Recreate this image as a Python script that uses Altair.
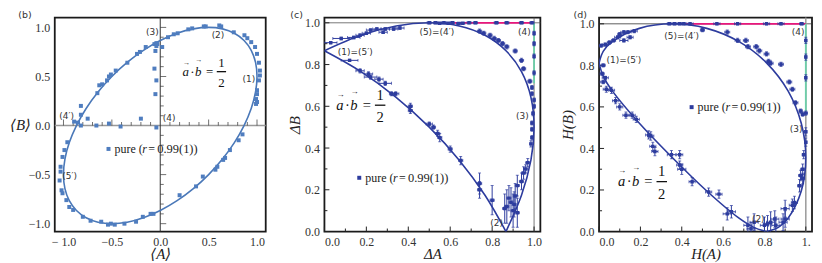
import altair as alt
import pandas as pd

SERIF = "Liberation Serif, DejaVu Serif, serif"
SANS = "DejaVu Sans, sans-serif"
BLUE_B = "#4f7dbf"
CURVE_B = "#4a78b8"
BLUE = "#2d3c9e"
PINK = "#e8177c"
GREEN = "#6ccfa9"

W_B, W_C, W_D, H = 212, 217, 214, 215

# ---------------- panel (b): <A>, <B> ----------------
b_curve_A = [1.0, 0.985, 0.94, 0.866, 0.766, 0.643, 0.5, 0.342, 0.174, 0.0, -0.174, -0.342, -0.5, -0.643,
             -0.766, -0.866, -0.94, -0.985, -1.0, -0.985, -0.94, -0.866, -0.766, -0.643, -0.5, -0.342, -0.174,
             0.0, 0.174, 0.342, 0.5, 0.643, 0.766, 0.866, 0.94, 0.985]
b_curve_B = [0.5, 0.643, 0.766, 0.866, 0.94, 0.985, 1.0, 0.985, 0.94, 0.866, 0.766, 0.643, 0.5, 0.342, 0.174,
             0.0, -0.174, -0.342, -0.5, -0.643, -0.766, -0.866, -0.94, -0.985, -1.0, -0.985, -0.94, -0.866,
             -0.766, -0.643, -0.5, -0.342, -0.174, 0.0, 0.174, 0.342]

b_pts_A = [-0.89, -0.85, -0.82, -0.82, -0.75, -0.65, -0.63, -0.60, -0.55, -0.53, -0.51, -0.46, -0.34, -0.24,
           -0.21, -0.15, -0.06, -0.04, -0.03, 0.02, 0.08, 0.14, 0.18, 0.29, 0.33, 0.45, 0.47, 0.61, 0.63, 0.76,
           0.87, 0.90, 0.94, 0.98, 1.00, 1.02, 1.03, 1.03, 1.02, 1.00, 1.00, 0.99, 1.00, 0.99,
           0.85, 0.81, 0.72, 0.67, 0.65, 0.59, 0.57, 0.44, 0.37, 0.20, -0.07, -0.10, -0.18, -0.25, -0.37,
           -0.47, -0.51, -0.54, -0.61, -0.72, -0.80, -0.90, -0.94, -0.97, -1.01, -1.02, -1.04, -1.03, -1.03,
           -1.01, -0.99, -0.96,
           -0.82, -0.66, -0.53, -0.41, -0.20, -0.04,
           -0.05, -0.04, -0.06, -0.05, -0.04]
b_pts_B = [0.04, 0.03, 0.20, 0.11, 0.07, 0.33, 0.41, 0.42, 0.46, 0.50, 0.52, 0.56, 0.64, 0.73,
           0.75, 0.80, 0.83, 0.84, 0.83, 0.80, 0.90, 0.93, 0.94, 0.98, 0.99, 1.01, 1.01, 1.02, 1.01, 0.95,
           0.92, 0.89, 0.85, 0.80, 0.73, 0.64, 0.56, 0.51, 0.46, 0.36, 0.32, 0.27, 0.24, 0.22,
           -0.09, -0.15, -0.25, -0.33, -0.35, -0.42, -0.45, -0.52, -0.62, -0.71, -0.90, -0.90, -0.93, -0.98,
           -1.0, -1.01, -1.0, -1.01, -0.98, -0.97, -0.93, -0.86, -0.83, -0.76, -0.69, -0.66, -0.56, -0.47,
           -0.42, -0.32, -0.25, -0.17,
           0.0, 0.0, 0.02, -0.01, 0.07, -0.02,
           0.32, 0.46, 0.58, 0.76, 0.81]

b_ticks_major = [-1.0, -0.5, 0.5, 1.0]
b_ticks_minor = [-0.9, -0.8, -0.7, -0.6, -0.4, -0.3, -0.2, -0.1, 0.1, 0.2, 0.3, 0.4, 0.6, 0.7, 0.8, 0.9]
b_labels = [-1.0, -0.5, 0.0, 0.5, 1.0]

# ---------------- panel (c): uncertainties ----------------
c_lo_x = [0.0, 0.174, 0.342, 0.5, 0.643, 0.766, 0.866]
c_lo_y = [0.866, 0.766, 0.643, 0.5, 0.342, 0.174, 0.0]
c_up_x = [0.866, 0.94, 0.985, 1.0, 0.985, 0.94, 0.866, 0.766, 0.643, 0.5, 0.342, 0.174, 0.0]
c_up_y = [0.0, 0.174, 0.342, 0.5, 0.643, 0.766, 0.866, 0.94, 0.985, 1.0, 0.985, 0.94, 0.866]

c_x = [0.03, 0.08, 0.14, 0.17, 0.20, 0.22, 0.25, 0.28, 0.29, 0.33, 0.36,
       0.50, 0.53, 0.55, 0.57, 0.59, 0.61, 0.64, 0.66, 0.69,
       0.72, 0.82, 0.87, 0.94, 0.99,
       1.0, 1.0, 1.0, 1.0,
       0.74, 0.76, 0.79, 0.81, 0.83, 0.85, 0.87, 0.91, 0.94, 0.95, 0.98, 0.99, 0.99, 1.0, 1.0, 0.995, 0.99,
       0.99, 0.99, 0.985,
       0.97, 0.96, 0.95, 0.94, 0.92, 0.91, 0.89, 0.88, 0.87, 0.86, 0.90, 0.92, 0.905,
       0.80, 0.74, 0.74, 0.65, 0.60, 0.55, 0.54, 0.52, 0.50, 0.41, 0.41, 0.34, 0.32, 0.29, 0.26, 0.22, 0.21,
       0.17, 0.12]
c_y = [0.905, 0.925, 0.93, 0.94, 0.95, 0.965, 0.97, 0.955, 0.97, 0.97, 0.975,
       1.0, 1.0, 0.998, 1.0, 0.998, 1.0, 0.997, 0.998, 1.0,
       1.0, 1.0, 1.0, 1.0, 1.0,
       0.95, 0.90, 0.84, 0.76,
       0.96, 0.95, 0.94, 0.925, 0.915, 0.90, 0.885, 0.865, 0.82, 0.78, 0.72, 0.69, 0.66, 0.63, 0.60, 0.565,
       0.52, 0.49, 0.45, 0.42,
       0.33, 0.30, 0.28, 0.24, 0.22, 0.17, 0.14, 0.16, 0.12, 0.11, 0.10, 0.09, 0.13,
       0.15, 0.23, 0.20, 0.34, 0.395, 0.45, 0.47, 0.50, 0.515, 0.60, 0.58, 0.66, 0.66, 0.71, 0.73, 0.74,
       0.755, 0.77, 0.82]
c_xe = [0.03, 0.04, 0.03, 0.02, 0.02, 0.02, 0.02, 0.02, 0.02, 0.02, 0.02,
        0.01, 0.01, 0.01, 0.01, 0.01, 0.01, 0.01, 0.01, 0.01,
        0.01, 0.01, 0.01, 0.01, 0.01,
        0.003, 0.003, 0.003, 0.003,
        0.01, 0.01, 0.01, 0.01, 0.01, 0.01, 0.01, 0.01, 0.01, 0.01, 0.01, 0.005, 0.005, 0.005, 0.005, 0.005,
        0.005, 0.005, 0.005, 0.005,
        0.01, 0.01, 0.01, 0.01, 0.01, 0.01, 0.01, 0.01, 0.01, 0.01, 0.01, 0.01, 0.01,
        0.01, 0.01, 0.01, 0.01, 0.01, 0.01, 0.01, 0.01, 0.015, 0.01, 0.01, 0.015, 0.01, 0.03, 0.02, 0.03,
        0.02, 0.02, 0.04]
c_ye = [0.006, 0.006, 0.006, 0.006, 0.006, 0.006, 0.006, 0.006, 0.006, 0.006, 0.006,
        0.004, 0.004, 0.004, 0.004, 0.004, 0.004, 0.004, 0.004, 0.004,
        0.004, 0.004, 0.004, 0.004, 0.004,
        0.01, 0.01, 0.01, 0.01,
        0.01, 0.01, 0.01, 0.01, 0.01, 0.01, 0.01, 0.01, 0.01, 0.01, 0.01, 0.01, 0.01, 0.01, 0.01, 0.01,
        0.01, 0.01, 0.01, 0.015,
        0.02, 0.02, 0.03, 0.04, 0.05, 0.06, 0.07, 0.06, 0.08, 0.07, 0.08, 0.07, 0.06,
        0.07, 0.05, 0.04, 0.02, 0.015, 0.02, 0.015, 0.01, 0.01, 0.015, 0.015, 0.01, 0.01, 0.01, 0.01, 0.01,
        0.01, 0.01, 0.005]

c_pink_x = [0.62, 1.0]
c_pink_y = [1.0, 1.0]
c_green_x = [1.0, 1.0]
c_green_y = [0.71, 1.0]

# ---------------- panel (d): entropies ----------------
d_lo_x = [0.0, 0.020, 0.064, 0.195, 0.355, 0.521, 0.677, 0.748, 0.811]
d_lo_y = [0.811, 0.748, 0.677, 0.521, 0.355, 0.195, 0.064, 0.020, 0.0]
d_up_x = [0.811, 0.867, 0.914, 0.978, 1.0, 0.978, 0.914, 0.811, 0.677, 0.521, 0.355, 0.195, 0.064, 0.020, 0.0]
d_up_y = [0.0, 0.020, 0.064, 0.195, 0.355, 0.521, 0.677, 0.811, 0.914, 0.978, 1.0, 0.978, 0.914, 0.867, 0.811]

d_x = [0.01, 0.03, 0.05, 0.07, 0.09, 0.10, 0.12, 0.14, 0.15, 0.12, 0.17, 0.02, 0.015, 0.02, 0.03,
       0.34, 0.365, 0.39, 0.41, 0.44, 0.50, 0.57, 0.67, 0.81, 0.88, 0.98,
       0.62, 0.67, 0.71, 0.72, 0.76, 0.775, 0.81, 0.82, 0.83, 0.88, 0.92, 0.935, 0.95, 0.975, 0.985, 1.0,
       1.0, 1.0, 1.0,
       1.0, 1.0, 0.99, 0.985, 0.975, 0.985, 0.97, 0.945, 0.935, 0.90, 0.90, 0.89, 0.85, 0.83, 0.815, 0.855,
       0.80, 0.75, 0.72, 0.735,
       0.64, 0.62, 0.58, 0.53, 0.45, 0.40, 0.39, 0.35, 0.39, 0.27, 0.26, 0.25, 0.24, 0.18, 0.16, 0.13, 0.10,
       0.08, 0.06, 0.035]
d_y = [0.895, 0.90, 0.91, 0.92, 0.935, 0.95, 0.96, 0.96, 0.935, 0.92, 0.965, 0.80, 0.76, 0.72, 0.74,
       1.0, 1.0, 1.0, 1.0, 1.0, 0.97, 1.0, 1.0, 1.0, 1.0, 1.0,
       0.96, 0.92, 0.92, 0.89, 0.89, 0.87, 0.855, 0.82, 0.81, 0.805, 0.72, 0.685, 0.62, 0.58, 0.565, 0.57,
       0.92, 0.84, 0.74,
       0.48, 0.43, 0.37, 0.30, 0.27, 0.255, 0.22, 0.14, 0.126, 0.11, 0.06, 0.045, 0.06, 0.045, 0.037, 0.03,
       0.03, 0.045, 0.03, 0.013,
       0.095, 0.085, 0.18, 0.19, 0.24, 0.30, 0.32, 0.37, 0.37, 0.385, 0.41, 0.46, 0.465, 0.54, 0.56, 0.56,
       0.60, 0.63, 0.68, 0.685]
d_xe = [0.01, 0.015, 0.01, 0.01, 0.015, 0.01, 0.015, 0.015, 0.015, 0.02, 0.015, 0.01, 0.01, 0.015, 0.015,
        0.01, 0.01, 0.01, 0.01, 0.015, 0.01, 0.015, 0.015, 0.015, 0.015, 0.01,
        0.012, 0.012, 0.012, 0.012, 0.012, 0.012, 0.012, 0.012, 0.012, 0.012, 0.012, 0.012, 0.012, 0.008,
        0.008, 0.008,
        0.004, 0.004, 0.004,
        0.005, 0.005, 0.008, 0.01, 0.01, 0.01, 0.01, 0.015, 0.015, 0.02, 0.02, 0.02, 0.02, 0.02, 0.02, 0.02,
        0.02, 0.02, 0.02, 0.02,
        0.02, 0.02, 0.015, 0.015, 0.015, 0.02, 0.015, 0.02, 0.015, 0.015, 0.015, 0.015, 0.015, 0.015, 0.015,
        0.015, 0.015, 0.015, 0.015, 0.015]
d_ye = [0.008, 0.008, 0.008, 0.008, 0.008, 0.008, 0.008, 0.008, 0.008, 0.008, 0.008, 0.008, 0.008, 0.008,
        0.008,
        0.004, 0.004, 0.004, 0.004, 0.004, 0.008, 0.004, 0.004, 0.004, 0.004, 0.004,
        0.01, 0.01, 0.01, 0.01, 0.01, 0.01, 0.01, 0.01, 0.01, 0.01, 0.01, 0.01, 0.01, 0.01, 0.01, 0.01,
        0.015, 0.015, 0.015,
        0.02, 0.02, 0.02, 0.025, 0.025, 0.025, 0.03, 0.03, 0.03, 0.04, 0.04, 0.04, 0.04, 0.05, 0.04, 0.04,
        0.04, 0.04, 0.04, 0.03,
        0.03, 0.03, 0.02, 0.02, 0.02, 0.025, 0.02, 0.02, 0.02, 0.02, 0.02, 0.02, 0.02, 0.015, 0.015, 0.015,
        0.015, 0.015, 0.015, 0.015]

d_pink_x = [0.42, 1.0]
d_pink_y = [1.0, 1.0]
d_green_x = [1.0, 1.0]
d_green_y = [0.58, 1.0]

cd_ticks_major = [0.0, 0.2, 0.4, 0.6, 0.8, 1.0]
cd_ticks_minor = [0.1, 0.3, 0.5, 0.7, 0.9]
cd_labels = [0.0, 0.2, 0.4, 0.6, 0.8, 1.0]

dummy = pd.DataFrame({"d": [0]})


def axis(values, title, orient, title_pos, angle=0, style="italic", label_expr=None):
    kw = dict(values=values, format=".1f", title=title, ticks=False, domain=False, grid=False,
              labelFont=SERIF, labelFontSize=12, labelColor="#333", labelPadding=5,
              titleFont=SERIF, titleFontSize=15, titleFontStyle=style, titleFontWeight="normal",
              titleColor="#222", titleAngle=angle, titleAlign="center", titleBaseline="middle")
    if label_expr:
        kw["labelExpr"] = label_expr
    if orient == "bottom":
        kw["titleY"] = title_pos
    else:
        kw["titleX"] = title_pos
        kw["titleY"] = H / 2
    return alt.Axis(**kw)


def encoders(xdom, ydom, xax, yax):
    xs = alt.Scale(domain=xdom, nice=False, zero=False)
    ys = alt.Scale(domain=ydom, nice=False, zero=False)

    def X(f):
        return alt.X(f, type="quantitative", scale=xs, axis=xax)

    def Y(f):
        return alt.Y(f, type="quantitative", scale=ys, axis=yax)
    return X, Y


def txt(s, x, y, size=9, font=SANS, style="normal", align="center", baseline="middle", color="#333"):
    return alt.Chart(dummy).mark_text(text=s, fontSize=size, font=font, fontStyle=style, align=align,
                                      baseline=baseline, color=color).encode(x=alt.value(x), y=alt.value(y))


def frac(x0, yb, s):
    f = 12.5 * s
    c = "#111"
    return [
        txt("a", x0 + 2.5 * s, yb, size=f, font=SERIF, style="italic", baseline="alphabetic", color=c),
        txt("\u2192", x0 + 3.0 * s, yb - 12.5 * s, size=7 * s, font=SERIF, color=c),
        txt("\u00b7", x0 + 9 * s, yb, size=f, font=SERIF, baseline="alphabetic", color=c),
        txt("b", x0 + 14.5 * s, yb, size=f, font=SERIF, style="italic", baseline="alphabetic", color=c),
        txt("\u2192", x0 + 15.0 * s, yb - 15.5 * s, size=7 * s, font=SERIF, color=c),
        txt("=", x0 + 25.5 * s, yb, size=f, font=SERIF, baseline="alphabetic", color=c),
        txt("1", x0 + 37 * s, yb - 8.5 * s, size=f, font=SERIF, baseline="alphabetic", color=c),
        txt("2", x0 + 37 * s, yb + 11 * s, size=f, font=SERIF, baseline="alphabetic", color=c),
        alt.Chart(dummy).mark_rule(color=c, strokeWidth=1.3).encode(
            x=alt.value(x0 + 32.5 * s), x2=alt.value(x0 + 41.5 * s), y=alt.value(yb - 3.8 * s)),
    ]


def legend(x, y, color):
    c = "#222"
    return [
        alt.Chart(dummy).mark_square(size=16, color=color, opacity=1).encode(x=alt.value(x), y=alt.value(y)),
        txt("pure (", x + 6, y, size=12, font=SERIF, align="left", color=c),
        txt("r", x + 34, y, size=12, font=SERIF, style="italic", align="left", color=c),
        txt("=", x + 40, y, size=12, font=SERIF, align="left", color=c),
        txt("0.99(1))", x + 49, y, size=12.5, font=SERIF, align="left", color=c),
    ]


def edge_ticks(X, Y, vals, length):
    df = pd.DataFrame({"v": vals})
    bottom = alt.Chart(df).mark_rule(color="#222", strokeWidth=1).encode(
        x=X("v"), y=alt.value(H), y2=alt.value(H - length))
    left = alt.Chart(df).mark_rule(color="#222", strokeWidth=1).encode(
        y=Y("v"), x=alt.value(0), x2=alt.value(length))
    return [bottom, left]


def points_with_errors(X, Y, xs, ys, xes, yes, color):
    df = pd.DataFrame({"x": xs, "y": ys, "xe": xes, "ye": yes})
    base = alt.Chart(df).transform_calculate(
        xlo="datum.x - datum.xe", xhi="datum.x + datum.xe",
        ylo="datum.y - datum.ye", yhi="datum.y + datum.ye")
    return [
        base.mark_rule(color=color, strokeWidth=1, clip=True).encode(x=X("xlo"), x2=alt.X2("xhi"), y=Y("y")),
        base.mark_rule(color=color, strokeWidth=1, clip=True).encode(x=X("x"), y=Y("ylo"), y2=alt.Y2("yhi")),
        base.mark_tick(color=color, orient="vertical", size=3, thickness=1, clip=True).encode(x=X("xlo"), y=Y("y")),
        base.mark_tick(color=color, orient="vertical", size=3, thickness=1, clip=True).encode(x=X("xhi"), y=Y("y")),
        base.mark_tick(color=color, orient="horizontal", size=3, thickness=1, clip=True).encode(x=X("x"), y=Y("ylo")),
        base.mark_tick(color=color, orient="horizontal", size=3, thickness=1, clip=True).encode(x=X("x"), y=Y("yhi")),
        base.mark_square(color=color, size=12, opacity=1, clip=True).encode(x=X("x"), y=Y("y")),
    ]


def two_branch_curve(X, Y, lo_x, lo_y, up_x, up_y, interp, color):
    df = pd.concat([
        pd.DataFrame({"x": lo_x, "y": lo_y, "br": "lo", "i": range(len(lo_x))}),
        pd.DataFrame({"x": up_x, "y": up_y, "br": "up", "i": range(len(up_x))}),
    ])
    return alt.Chart(df).mark_line(color=color, strokeWidth=1.6, interpolate=interp, clip=True).encode(
        x=X("x"), y=Y("y"), detail="br:N", order="i:Q")


def seg(X, Y, xs, ys, color, width):
    df = pd.DataFrame({"x": xs, "y": ys})
    return alt.Chart(df).mark_line(color=color, strokeWidth=width).encode(x=X("x"), y=Y("y"))


# ---------------- build panel (b) ----------------
b_label_expr = "datum.value <= -0.99 ? '\u2212 1.0' : format(datum.value, '.1f')"
bX, bY = encoders([-1.09, 1.09], [-1.08, 1.10],
                  axis(b_labels, "\u27e8A\u27e9", "bottom", 22, label_expr=b_label_expr),
                  axis(b_labels, "\u27e8B\u27e9", "left", -35))
b_layers = []
zero_df = pd.DataFrame({"z": [0.0]})
b_layers.append(alt.Chart(zero_df).mark_rule(color="#999", strokeWidth=1.5).encode(y=bY("z")))
b_layers.append(alt.Chart(zero_df).mark_rule(color="#333", strokeWidth=1).encode(x=bX("z")))
for vals, L in [(b_ticks_major, 6), (b_ticks_minor, 3.5)]:
    tdf = pd.DataFrame({"v": vals})
    b_layers.append(alt.Chart(tdf).transform_calculate(z="0").mark_tick(
        color="#333", orient="vertical", size=L, thickness=1, yOffset=-L / 2).encode(x=bX("v"), y=bY("z:Q")))
    b_layers.append(alt.Chart(tdf).transform_calculate(z="0").mark_tick(
        color="#333", orient="horizontal", size=L, thickness=1, xOffset=L / 2).encode(y=bY("v"), x=bX("z:Q")))
b_curve_df = pd.DataFrame({"A": b_curve_A, "B": b_curve_B, "i": range(len(b_curve_A))})
b_layers.append(alt.Chart(b_curve_df).mark_line(color=CURVE_B, strokeWidth=1.6, interpolate="cardinal-closed").encode(
    x=bX("A"), y=bY("B"), order="i:Q"))
b_pts_df = pd.DataFrame({"A": b_pts_A, "B": b_pts_B})
b_layers.append(alt.Chart(b_pts_df).mark_square(color=BLUE_B, size=16, opacity=1).encode(x=bX("A"), y=bY("B")))
b_layers += [
    txt("(3)", 98, 15), txt("(2)", 164, 18), txt("(1)", 195, 62), txt("(4\u2032)", 12, 99),
    txt("(4)", 115, 101), txt("(5\u2032)", 15, 159),
    txt("(b)", -30, 2, size=9.5, baseline="bottom"),
]
b_layers += legend(54, 132, BLUE_B)
b_layers += frac(129, 58.3, 1.04)
panel_b = alt.layer(*b_layers).properties(width=W_B, height=H)

# ---------------- build panel (c) ----------------
cX, cY = encoders([0.0, 1.03], [0.0, 1.025],
                  axis(cd_labels, "\u0394A", "bottom", 22),
                  axis(cd_labels, "\u0394B", "left", -30, angle=270))
c_layers = []
one_df = pd.DataFrame({"o": [1.0]})
c_layers.append(alt.Chart(one_df).mark_rule(color="#555", strokeWidth=0.8).encode(y=cY("o")))
c_layers.append(alt.Chart(one_df).mark_rule(color="#555", strokeWidth=0.8).encode(x=cX("o")))
c_layers += edge_ticks(cX, cY, cd_ticks_major, 5)
c_layers += edge_ticks(cX, cY, cd_ticks_minor, 3)
c_layers.append(seg(cX, cY, c_pink_x, c_pink_y, PINK, 1.8))
c_layers.append(seg(cX, cY, c_green_x, c_green_y, GREEN, 1.8))
c_layers.append(two_branch_curve(cX, cY, c_lo_x, c_lo_y, c_up_x, c_up_y, "cardinal", BLUE))
c_layers += points_with_errors(cX, cY, c_x, c_y, c_xe, c_ye, BLUE)
c_layers += [
    txt("(1)=(5\u2032)", 31, 35), txt("(5)=(4\u2032)", 113, 14), txt("(4)", 201, 14), txt("(3)", 199, 99),
    txt("(2)", 173, 206),
    txt("(c)", -28, 2, size=9.5, baseline="bottom"),
]
c_layers += legend(35, 161, BLUE)
c_layers += frac(12.7, 92.5, 1.17)
panel_c = alt.layer(*c_layers).properties(width=W_C, height=H)

# ---------------- build panel (d) ----------------
dX, dY = encoders([0.0, 1.03], [0.0, 1.03],
                  axis(cd_labels, "H(A)", "bottom", 22,
                       label_expr="datum.value >= 0.99 ? '1.' : format(datum.value, '.1f')"),
                  axis(cd_labels, "H(B)", "left", -32, angle=270))
d_layers = []
d_layers.append(alt.Chart(one_df).mark_rule(color="#333", strokeWidth=0.8).encode(y=dY("o")))
d_layers.append(alt.Chart(one_df).mark_rule(color="#999", strokeWidth=1.5).encode(x=dX("o")))
d_layers += edge_ticks(dX, dY, cd_ticks_major, 5)
d_layers += edge_ticks(dX, dY, cd_ticks_minor, 3)
d_layers.append(seg(dX, dY, d_pink_x, d_pink_y, PINK, 1.8))
d_layers.append(seg(dX, dY, d_green_x, d_green_y, GREEN, 1.8))
d_layers.append(two_branch_curve(dX, dY, d_lo_x, d_lo_y, d_up_x, d_up_y, "catmull-rom", BLUE))
d_layers += points_with_errors(dX, dY, d_x, d_y, d_xe, d_ye, BLUE)
d_layers += [
    txt("(1)=(5\u2032)", 25, 43), txt("(5)=(4\u2032)", 83, 19), txt("(4)", 200, 15), txt("(3)", 198, 112),
    txt("(2)", 160, 202),
    txt("(d)", -19, 2, size=9.5, baseline="bottom"),
]
d_layers += legend(93, 90, BLUE)
d_layers += frac(19.7, 169.3, 1.17)
panel_d = alt.layer(*d_layers).properties(width=W_D, height=H)

chart = alt.hconcat(panel_b, panel_c, panel_d, spacing=59, bounds="flush").properties(
    padding={"left": 0, "top": 0, "right": 0, "bottom": 0}
).configure_view(stroke="#1a1a1a", strokeWidth=1.8)

chart.save("out.html", embed_options={"renderer": "svg", "actions": False})
